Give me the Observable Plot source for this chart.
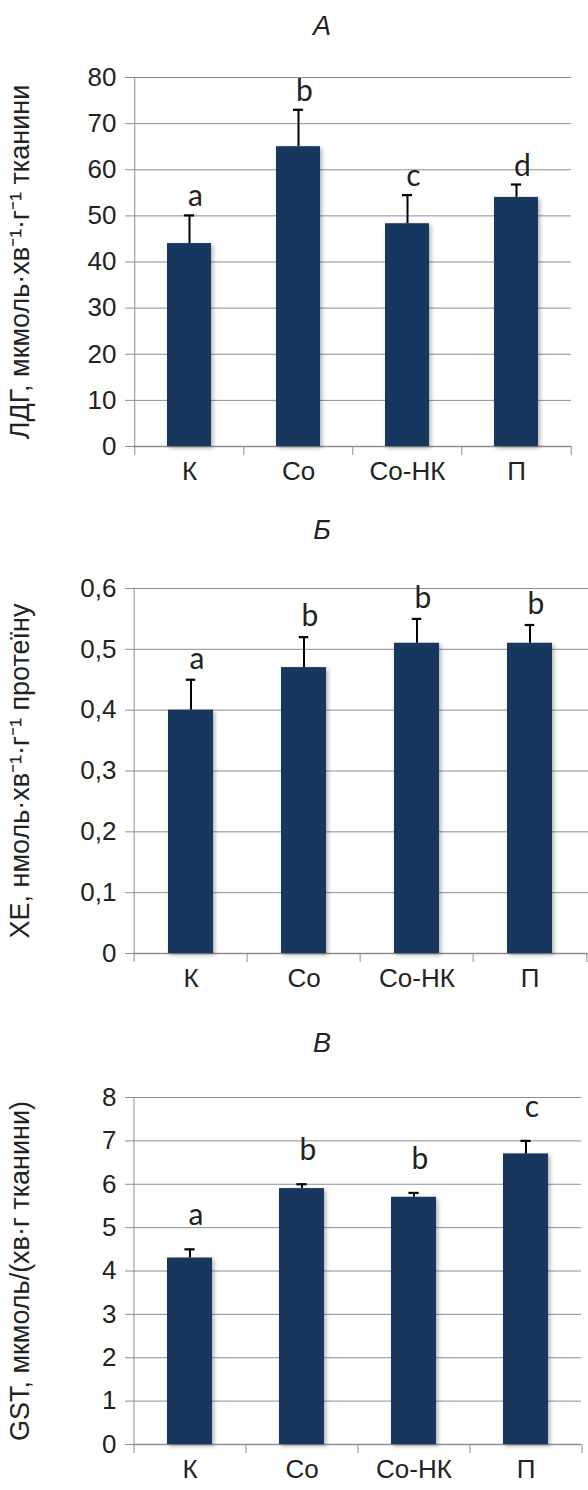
<!DOCTYPE html>
<html>
<head>
<meta charset="utf-8">
<script src="https://cdn.jsdelivr.net/npm/d3@7"></script>
<script src="https://cdn.jsdelivr.net/npm/@observablehq/plot@0.6"></script>
<style>
  html, body { margin: 0; padding: 0; background: #fff; }
  #root { position: relative; width: 588px; height: 1490px; overflow: hidden; font-family: "Liberation Sans", Arial, sans-serif; }
  .ttl { position: absolute; width: 60px; text-align: center; font-style: italic; font-size: 27px; color: #222; line-height: 1; }
  .panel { position: absolute; left: 0; }
  #root svg { font-family: "Liberation Sans", Arial, sans-serif; }
  #root svg g[aria-label="y-axis tick label"], #root svg g[aria-label="x-axis tick label"] { font-size: 26px; }
  #root svg g[aria-label="y-axis label"] { font-size: 27px; }
  #root svg g[aria-label="text"] { font-size: 30px; font-family: Lato, "Open Sans", sans-serif; }
  g[aria-label="bar"] rect { filter: drop-shadow(2px 2px 2px rgba(0,0,0,0.3)); }
</style>
</head>
<body>
<div id="root"></div>
<script>
// ---- data ----
const categories = ["К", "Со", "Со-НК", "П"];

// Panel А — ЛДГ
const ldgTitle = "А";
const ldgLabel = "ЛДГ, мкмоль·хв⁻¹·г⁻¹ тканини";
const ldgValues = [44.0, 65.0, 48.3, 54.0];
const ldgSE = [6.1, 8.0, 6.2, 2.8];
const ldgLetters = ["a", "b", "c", "d"];
const ldgTicks = [0, 10, 20, 30, 40, 50, 60, 70, 80];

// Panel Б — ХЕ
const cheTitle = "Б";
const cheLabel = "ХЕ, нмоль·хв⁻¹·г⁻¹ протеїну";
const cheValues = [0.40, 0.47, 0.51, 0.51];
const cheSE = [0.05, 0.05, 0.04, 0.03];
const cheLetters = ["a", "b", "b", "b"];
const cheTicks = [0, 0.1, 0.2, 0.3, 0.4, 0.5, 0.6];

// Panel В — GST
const gstTitle = "В";
const gstLabel = "GST, мкмоль/(хв·г тканини)";
const gstValues = [4.3, 5.9, 5.7, 6.7];
const gstSE = [0.2, 0.1, 0.1, 0.3];
const gstLetters = ["a", "b", "b", "c"];
const gstTicks = [0, 1, 2, 3, 4, 5, 6, 7, 8];

// ---- drawing ----
const root = document.getElementById("root");
const W = 588, ML = 133;
const BAR = "#17375e", GRID = "#8e8e8e", TXT = "#222";

function panel(cfg) {
  const data = categories.map((c, i) => ({
    cat: c, value: cfg.values[i], err: cfg.values[i] + cfg.se[i], letter: cfg.letters[i]
  }));
  const yMax = cfg.ticks[cfg.ticks.length - 1];
  const step = (W - ML - cfg.mr) / categories.length;
  const bw = step * 0.4;
  const capW = 10;
  const fmt = cfg.comma ? (d => String(d).replace(".", ",")) : (d => String(d));

  const chart = Plot.plot({
    width: W,
    height: cfg.height,
    marginTop: cfg.mt,
    marginBottom: cfg.mb,
    marginLeft: ML,
    marginRight: cfg.mr,
    style: { fontFamily: "'Liberation Sans', Arial, sans-serif", fontSize: "22px", color: TXT, background: "transparent", overflow: "visible" },
    x: { domain: categories, paddingInner: 0.6, paddingOuter: 0.3, label: null },
    y: { domain: [0, yMax], label: null },
    marks: [
      Plot.gridY(cfg.ticks.slice(1), { stroke: GRID, strokeOpacity: 1, strokeWidth: 1 }),
      Plot.axisY(cfg.ticks, {
        tickSize: 8, tickPadding: 9, stroke: GRID, tickFormat: fmt,
        label: cfg.label, labelAnchor: "center", labelArrow: "none", labelOffset: 124
      }),
      Plot.axisX({ tickSize: 0, tickPadding: 15, label: null }),
      // y axis line (with bottom tick) and category boundary ticks
      Plot.ruleX([categories[0]], { x: d => d, y1: yMax, y2: 0, dx: -step / 2, insetBottom: -9, stroke: GRID }),
      Plot.ruleX(categories.slice(1), { x: d => d, y1: 0, y2: 0, dx: -step / 2, insetBottom: -9, stroke: GRID }),
      Plot.ruleX([categories[categories.length - 1]], { x: d => d, y1: 0, y2: 0, dx: step / 2, insetBottom: -9, stroke: GRID }),
      Plot.ruleY([0], { stroke: GRID, strokeWidth: 1.3 }),
      Plot.barY(data, { x: "cat", y: "value", fill: BAR }),
      Plot.ruleX(data, { x: "cat", y1: "value", y2: "err", stroke: "#000", strokeWidth: 2 }),
      Plot.tickY(data, { x: "cat", y: "err", stroke: "#000", strokeWidth: 2.2, inset: (bw - capW) / 2 }),
      Plot.text(data, {
        x: "cat", y: "err", text: "letter", dy: -cfg.letterDy, dx: 6, lineAnchor: "bottom", fill: TXT
      })
    ]
  });
  const wrap = document.createElement("div");
  wrap.className = "panel";
  wrap.style.top = cfg.top + "px";
  wrap.appendChild(chart);
  root.appendChild(wrap);

  const t = document.createElement("div");
  t.className = "ttl";
  t.textContent = cfg.title;
  t.style.left = (322 - 30) + "px";
  t.style.top = cfg.titleTop + "px";
  root.appendChild(t);
}

panel({ title: ldgTitle, label: ldgLabel, values: ldgValues, se: ldgSE, letters: ldgLetters, ticks: ldgTicks,
  top: 50, height: 450, mt: 27, mb: 54, mr: 17, letterDy: 9, titleTop: 13, comma: false });
panel({ title: cheTitle, label: cheLabel, values: cheValues, se: cheSE, letters: cheLetters, ticks: cheTicks,
  top: 560, height: 450, mt: 28, mb: 57, mr: 0, letterDy: 11, titleTop: 517, comma: true });
panel({ title: gstTitle, label: gstLabel, values: gstValues, se: gstSE, letters: gstLetters, ticks: gstTicks,
  top: 1070, height: 420, mt: 27, mb: 46, mr: 7, letterDy: 24, titleTop: 1030, comma: false });
</script>
</body>
</html>
